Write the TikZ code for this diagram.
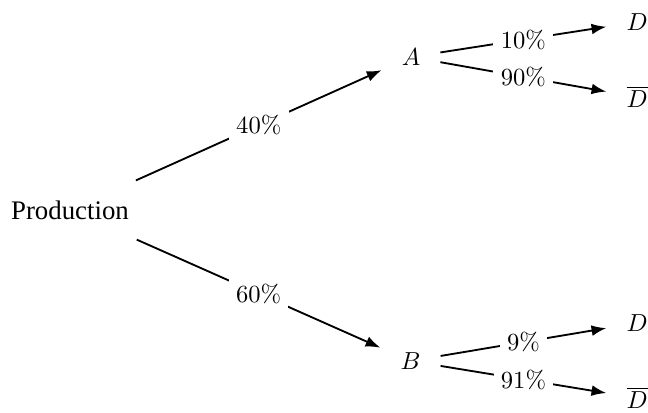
\documentclass[tikz,border=0pt]{standalone}
\usepackage{amsmath}
\usepackage{amssymb}
\usepackage[no-math]{fontspec}
\setmainfont{Liberation Serif}
\usepackage{xcolor}
\usepackage{tikz}
\usetikzlibrary{arrows.meta}

\begin{document}
\begin{tikzpicture}[
  event/.style={inner sep=8pt},
  plabel/.style={midway,fill=white,inner sep=3pt},
  branch/.style={line width=0.75pt,-{Latex[length=6pt,width=4.4pt]}},
]
\useasboundingbox (0,0) rectangle (9.257,-5.886);
\node[event,font=\fontsize{10.9}{13}\selectfont] (prod) at (1.0,-3.0) {Production};
\node[event] (a) at (5.871,-0.814) {$A$};
\node[event] (b) at (5.864,-5.157) {$B$};
\node[event] (ad) at (9.1,-0.314) {$D$};
\node[event] (adn) at (9.1,-1.386) {$\overline{D}$};
\node[event] (bd) at (9.1,-4.614) {$D$};
\node[event] (bdn) at (9.1,-5.686) {$\overline{D}$};
% first level
\draw[branch] (prod) -- node[plabel] {$40\%$} (a);
\draw[branch] (prod) -- node[plabel] {$60\%$} (b);
% second level
\draw[branch] (a) -- node[plabel] {$10\%$} (ad);
\draw[branch] (a) -- node[plabel] {$90\%$} (adn);
\draw[branch] (b) -- node[plabel] {$9\%$} (bd);
\draw[branch] (b) -- node[plabel] {$91\%$} (bdn);
\end{tikzpicture}
\end{document}
